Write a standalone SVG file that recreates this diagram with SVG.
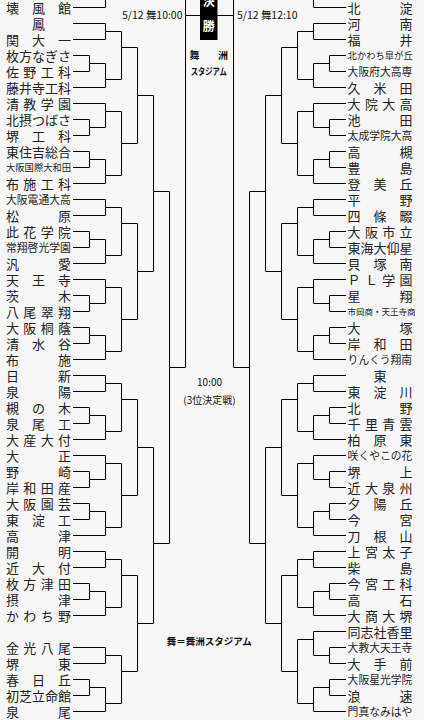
<svg xmlns="http://www.w3.org/2000/svg" width="424" height="720" viewBox="0 0 424 720">
<style>
.n{font-family:"Noto Sans CJK JP","Noto Sans CJK SC",sans-serif;font-size:13px;fill:#222}
.s6{font-size:10.8px}.s7{font-size:9.3px}.s8{font-size:8.5px}
.c{font-family:"Noto Sans CJK JP","Noto Sans CJK SC",sans-serif;fill:#111}
.b{font-weight:bold}
.ln{fill:none;stroke:#000;stroke-width:1}
</style>
<rect width="424" height="720" fill="#f7f7f7"/>
<g id="connectors" class="ln">
<path d="M73 7.5H105.5V0M73 23.5H105.5V39.5H73M105.5 31.5H121.5M73 55.5H89.5V71.5H73M89.5 63.5H105.5M73 87.5H105.5M105.5 63.5V87.5M105.5 79.5H121.5M121.5 31.5V79.5M121.5 47.5H137.5M73 103.5H105.5M73 119.5H89.5V135.5H73M89.5 127.5H105.5M105.5 103.5V127.5M105.5 111.5H121.5M73 151.5H89.5V167.5H73M89.5 159.5H105.5M73 183.5H105.5M105.5 159.5V183.5M105.5 175.5H121.5M121.5 111.5V175.5M121.5 143.5H137.5M137.5 47.5V143.5M137.5 95.5H153.5M73 199.5H105.5V215.5H73M105.5 207.5H121.5M73 231.5H89.5V247.5H73M89.5 239.5H105.5M73 263.5H105.5M105.5 239.5V263.5M105.5 255.5H121.5M121.5 207.5V255.5M121.5 223.5H137.5M73 279.5H105.5M73 295.5H89.5V311.5H73M89.5 303.5H105.5M105.5 279.5V303.5M105.5 287.5H121.5M73 327.5H89.5V343.5H73M89.5 335.5H105.5M73 359.5H105.5M105.5 335.5V359.5M105.5 351.5H121.5M121.5 287.5V351.5M121.5 319.5H137.5M137.5 223.5V319.5M137.5 271.5H153.5M153.5 95.5V271.5M153.5 191.5H169.5M73 375.5H105.5V391.5H73M105.5 383.5H121.5M73 407.5H89.5V423.5H73M89.5 415.5H105.5M73 439.5H105.5M105.5 415.5V439.5M105.5 431.5H121.5M121.5 383.5V431.5M121.5 399.5H137.5M73 455.5H105.5M73 471.5H89.5V487.5H73M89.5 479.5H105.5M105.5 455.5V479.5M105.5 463.5H121.5M73 503.5H89.5V519.5H73M89.5 511.5H105.5M73 535.5H105.5M105.5 511.5V535.5M105.5 527.5H121.5M121.5 463.5V527.5M121.5 495.5H137.5M137.5 399.5V495.5M137.5 447.5H153.5M73 551.5H105.5V567.5H73M105.5 559.5H121.5M73 583.5H89.5V599.5H73M89.5 591.5H105.5M73 615.5H105.5M105.5 591.5V615.5M105.5 607.5H121.5M121.5 559.5V607.5M121.5 575.5H137.5M73 647.5H105.5V663.5H73M105.5 655.5H121.5M73 679.5H89.5V695.5H73M89.5 687.5H105.5M73 711.5H105.5M105.5 687.5V711.5M105.5 703.5H121.5M121.5 655.5V703.5M121.5 671.5H137.5M137.5 575.5V671.5M137.5 623.5H153.5M153.5 447.5V623.5M153.5 543.5H169.5M169.5 191.5V543.5M169.5 367.5H185.5M185.5 0V367.5M185.5 15.5H200"/>
<path d="M346 7.5H313.5V0M346 23.5H313.5V39.5H346M313.5 31.5H297.5M346 55.5H329.5V71.5H346M329.5 63.5H313.5M346 87.5H313.5M313.5 63.5V87.5M313.5 79.5H297.5M297.5 31.5V79.5M297.5 47.5H281.5M346 103.5H313.5M346 119.5H329.5V135.5H346M329.5 127.5H313.5M313.5 103.5V127.5M313.5 111.5H297.5M346 151.5H329.5V167.5H346M329.5 159.5H313.5M346 183.5H313.5M313.5 159.5V183.5M313.5 175.5H297.5M297.5 111.5V175.5M297.5 143.5H281.5M281.5 47.5V143.5M281.5 95.5H265.5M346 199.5H313.5V215.5H346M313.5 207.5H297.5M346 231.5H329.5V247.5H346M329.5 239.5H313.5M346 263.5H313.5M313.5 239.5V263.5M313.5 255.5H297.5M297.5 207.5V255.5M297.5 223.5H281.5M346 279.5H313.5M346 295.5H329.5V311.5H346M329.5 303.5H313.5M313.5 279.5V303.5M313.5 287.5H297.5M346 327.5H329.5V343.5H346M329.5 335.5H313.5M346 359.5H313.5M313.5 335.5V359.5M313.5 351.5H297.5M297.5 287.5V351.5M297.5 319.5H281.5M281.5 223.5V319.5M281.5 271.5H265.5M265.5 95.5V271.5M265.5 191.5H249.5M346 375.5H313.5V391.5H346M313.5 383.5H297.5M346 407.5H329.5V423.5H346M329.5 415.5H313.5M346 439.5H313.5M313.5 415.5V439.5M313.5 431.5H297.5M297.5 383.5V431.5M297.5 399.5H281.5M346 455.5H313.5M346 471.5H329.5V487.5H346M329.5 479.5H313.5M313.5 455.5V479.5M313.5 463.5H297.5M346 503.5H329.5V519.5H346M329.5 511.5H313.5M346 535.5H313.5M313.5 511.5V535.5M313.5 527.5H297.5M297.5 463.5V527.5M297.5 495.5H281.5M281.5 399.5V495.5M281.5 447.5H265.5M346 551.5H313.5V567.5H346M313.5 559.5H297.5M346 583.5H329.5V599.5H346M329.5 591.5H313.5M346 615.5H313.5M313.5 591.5V615.5M313.5 607.5H297.5M297.5 559.5V607.5M297.5 575.5H281.5M346 631.5H313.5M346 647.5H329.5V663.5H346M329.5 655.5H313.5M313.5 631.5V655.5M313.5 639.5H297.5M346 679.5H329.5V695.5H346M329.5 687.5H313.5M346 711.5H313.5M313.5 687.5V711.5M313.5 703.5H297.5M297.5 639.5V703.5M297.5 671.5H281.5M281.5 575.5V671.5M281.5 623.5H265.5M265.5 447.5V623.5M265.5 543.5H249.5M249.5 191.5V543.5M249.5 367.5H233.5M233.5 0V367.5M217.5 15.5H233.5"/>
</g>
<g id="final">
<rect x="200" y="0" width="17.5" height="40" fill="#000"/>
<text class="c b" x="208.75" y="5.6" font-size="12" fill="#fff" style="fill:#fff" text-anchor="middle">決</text>
<text class="c b" x="208.75" y="30.8" font-size="12" style="fill:#fff" text-anchor="middle">勝</text>
</g>
<g id="date-left"><text class="c" x="122" y="18.8" font-size="10.5" textLength="60.5" lengthAdjust="spacingAndGlyphs">5/12 舞10:00</text></g>
<g id="date-right"><text class="c" x="237" y="18.8" font-size="10.5" textLength="60.5" lengthAdjust="spacingAndGlyphs">5/12 舞12:10</text></g>
<g id="venue">
<text class="c b" x="189.5" y="58.8" font-size="10">舞</text>
<text class="c b" x="218" y="58.8" font-size="10">洲</text>
<text class="c b" x="190.7" y="75" font-size="9.5" textLength="36" lengthAdjust="spacingAndGlyphs">スタジアム</text>
</g>
<g id="third-place">
<text class="c" x="209.5" y="386.3" font-size="10" text-anchor="middle">10:00</text>
<text class="c" x="209.5" y="403.6" font-size="10" text-anchor="middle">(3位決定戦)</text>
</g>
<g id="legend"><text class="c b" x="166.7" y="644.6" font-size="9.5" textLength="85" lengthAdjust="spacingAndGlyphs">舞＝舞洲スタジアム</text></g>
<g id="left-teams" class="n">
<g id="L0"><text x="6 32 58" y="12.5">壊風館</text></g>
<g id="L1"><text x="32" y="28.5">鳳</text></g>
<g id="L2"><text x="6 32 58" y="44.5">関大一</text></g>
<g id="L3"><text x="6 19 32 45 58" y="60.5">枚方なぎさ</text></g>
<g id="L4"><text x="6 23.3 40.7 58" y="76.5">佐野工科</text></g>
<g id="L5"><text x="6 19 32 45 58" y="92.5">藤井寺工科</text></g>
<g id="L6"><text x="6 23.3 40.7 58" y="108.5">清教学園</text></g>
<g id="L7"><text x="6 19 32 45 58" y="124.5">北摂つばさ</text></g>
<g id="L8"><text x="6 32 58" y="140.5">堺工科</text></g>
<g id="L9"><text x="6 19 32 45 58" y="156.5">東住吉総合</text></g>
<g id="L10"><text class="s7" x="6" y="171.2">大阪国際大和田</text></g>
<g id="L11"><text x="6 23.3 40.7 58" y="188.5">布施工科</text></g>
<g id="L12"><text class="s6" x="6" y="203.7">大阪電通大高</text></g>
<g id="L13"><text x="6 58" y="220.5">松原</text></g>
<g id="L14"><text x="6 23.3 40.7 58" y="236.5">此花学院</text></g>
<g id="L15"><text class="s6" x="6" y="251.7">常翔啓光学園</text></g>
<g id="L16"><text x="6 58" y="268.5">汎愛</text></g>
<g id="L17"><text x="6 32 58" y="284.5">天王寺</text></g>
<g id="L18"><text x="6 58" y="300.5">茨木</text></g>
<g id="L19"><text x="6 23.3 40.7 58" y="316.5">八尾翠翔</text></g>
<g id="L20"><text x="6 23.3 40.7 58" y="332.5">大阪桐蔭</text></g>
<g id="L21"><text x="6 32 58" y="348.5">清水谷</text></g>
<g id="L22"><text x="6 58" y="364.5">布施</text></g>
<g id="L23"><text x="6 58" y="380.5">日新</text></g>
<g id="L24"><text x="6 58" y="396.5">泉陽</text></g>
<g id="L25"><text x="6 32 58" y="412.5">槻の木</text></g>
<g id="L26"><text x="6 32 58" y="428.5">泉尾工</text></g>
<g id="L27"><text x="6 23.3 40.7 58" y="444.5">大産大付</text></g>
<g id="L28"><text x="6 58" y="460.5">大正</text></g>
<g id="L29"><text x="6 58" y="476.5">野崎</text></g>
<g id="L30"><text x="6 23.3 40.7 58" y="492.5">岸和田産</text></g>
<g id="L31"><text x="6 23.3 40.7 58" y="508.5">大阪園芸</text></g>
<g id="L32"><text x="6 32 58" y="524.5">東淀工</text></g>
<g id="L33"><text x="6 58" y="540.5">高津</text></g>
<g id="L34"><text x="6 58" y="556.5">開明</text></g>
<g id="L35"><text x="6 32 58" y="572.5">近大付</text></g>
<g id="L36"><text x="6 23.3 40.7 58" y="588.5">枚方津田</text></g>
<g id="L37"><text x="6 58" y="604.5">摂津</text></g>
<g id="L38"><text x="6 23.3 40.7 58" y="620.5">かわち野</text></g>
<g id="L40"><text x="6 23.3 40.7 58" y="652.5">金光八尾</text></g>
<g id="L41"><text x="6 58" y="668.5">堺東</text></g>
<g id="L42"><text x="6 32 58" y="684.5">春日丘</text></g>
<g id="L43"><text x="6 19 32 45 58" y="700.5">初芝立命館</text></g>
<g id="L44"><text x="6 58" y="716.5">泉尾</text></g>
</g>
<g id="right-teams" class="n">
<g id="R0"><text x="347.6 399.6" y="12.5">北淀</text></g>
<g id="R1"><text x="347.6 399.6" y="28.5">河南</text></g>
<g id="R2"><text x="347.6 399.6" y="44.5">福井</text></g>
<g id="R3"><text class="s7" x="347.6" y="59.2">北かわち皐が丘</text></g>
<g id="R4"><text class="s6" x="347.6" y="75.7">大阪府大高専</text></g>
<g id="R5"><text x="347.6 373.6 399.6" y="92.5">久米田</text></g>
<g id="R6"><text x="347.6 364.9 382.3 399.6" y="108.5">大院大高</text></g>
<g id="R7"><text x="347.6 399.6" y="124.5">池田</text></g>
<g id="R8"><text class="s6" x="347.6" y="139.7">太成学院大高</text></g>
<g id="R9"><text x="347.6 399.6" y="156.5">高槻</text></g>
<g id="R10"><text x="347.6 399.6" y="172.5">豊島</text></g>
<g id="R11"><text x="347.6 373.6 399.6" y="188.5">登美丘</text></g>
<g id="R12"><text x="347.6 399.6" y="204.5">平野</text></g>
<g id="R13"><text x="347.6 373.6 399.6" y="220.5">四條畷</text></g>
<g id="R14"><text x="347.6 364.9 382.3 399.6" y="236.5">大阪市立</text></g>
<g id="R15"><text x="347.6 360.6 373.6 386.6 399.6" y="252.5">東海大仰星</text></g>
<g id="R16"><text x="347.6 373.6 399.6" y="268.5">貝塚南</text></g>
<g id="R17"><text x="347.6 364.9 382.3 399.6" y="284.5">ＰＬ学園</text></g>
<g id="R18"><text x="347.6 399.6" y="300.5">星翔</text></g>
<g id="R19"><text class="s8" x="347.6" y="314.9">市岡商・天王寺商</text></g>
<g id="R20"><text x="347.6 399.6" y="332.5">大塚</text></g>
<g id="R21"><text x="347.6 373.6 399.6" y="348.5">岸和田</text></g>
<g id="R22"><text class="s6" x="347.6" y="363.7">りんくう翔南</text></g>
<g id="R23"><text x="373.6" y="380.5">東</text></g>
<g id="R24"><text x="347.6 373.6 399.6" y="396.5">東淀川</text></g>
<g id="R25"><text x="347.6 399.6" y="412.5">北野</text></g>
<g id="R26"><text x="347.6 364.9 382.3 399.6" y="428.5">千里青雲</text></g>
<g id="R27"><text x="347.6 373.6 399.6" y="444.5">柏原東</text></g>
<g id="R28"><text class="s6" x="347.6" y="459.7">咲くやこの花</text></g>
<g id="R29"><text x="347.6 399.6" y="476.5">堺上</text></g>
<g id="R30"><text x="347.6 364.9 382.3 399.6" y="492.5">近大泉州</text></g>
<g id="R31"><text x="347.6 373.6 399.6" y="508.5">夕陽丘</text></g>
<g id="R32"><text x="347.6 399.6" y="524.5">今宮</text></g>
<g id="R33"><text x="347.6 373.6 399.6" y="540.5">刀根山</text></g>
<g id="R34"><text x="347.6 364.9 382.3 399.6" y="556.5">上宮太子</text></g>
<g id="R35"><text x="347.6 399.6" y="572.5">柴島</text></g>
<g id="R36"><text x="347.6 364.9 382.3 399.6" y="588.5">今宮工科</text></g>
<g id="R37"><text x="347.6 399.6" y="604.5">高石</text></g>
<g id="R38"><text x="347.6 364.9 382.3 399.6" y="620.5">大商大堺</text></g>
<g id="R39"><text x="347.6 360.6 373.6 386.6 399.6" y="636.5">同志社香里</text></g>
<g id="R40"><text class="s6" x="347.6" y="651.7">大教大天王寺</text></g>
<g id="R41"><text x="347.6 373.6 399.6" y="668.5">大手前</text></g>
<g id="R42"><text class="s6" x="347.6" y="683.7">大阪星光学院</text></g>
<g id="R43"><text x="347.6 399.6" y="700.5">浪速</text></g>
<g id="R44"><text class="s6" x="347.6" y="715.7">門真なみはや</text></g>
</g>
</svg>
